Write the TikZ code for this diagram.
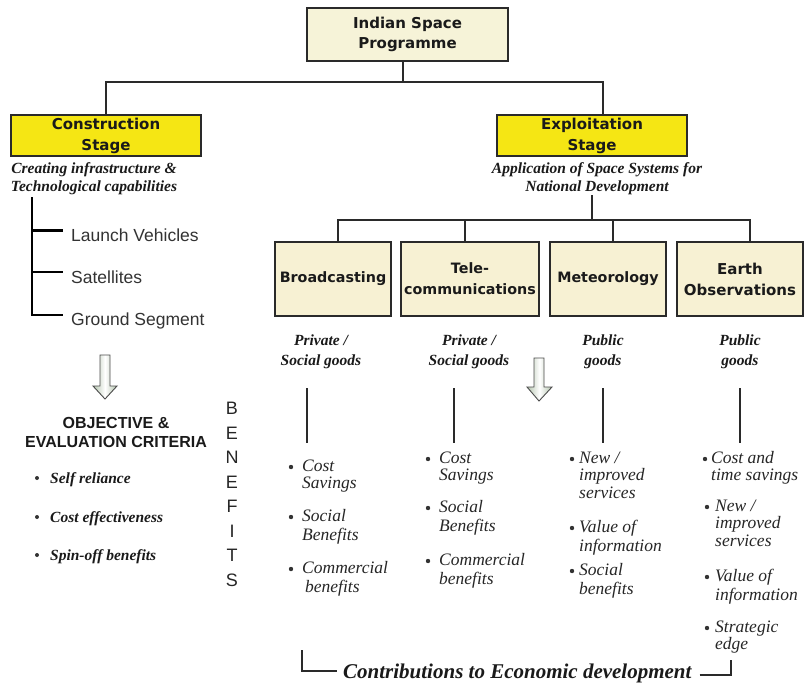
\documentclass[tikz,border=0pt]{standalone}
\usepackage{fontspec}
\setmainfont{Liberation Serif}
\newfontfamily\verd{DejaVu Sans}
\newfontfamily\arial{Liberation Sans}
\definecolor{linec}{HTML}{2A2A2A}
\definecolor{txt}{HTML}{1A1A1A}
\definecolor{ylw}{RGB}{245,230,20}
\definecolor{cream}{HTML}{F7F1D3}
\definecolor{topcream}{HTML}{F6F3D8}
\definecolor{agreen}{HTML}{B4C4AE}
\tikzset{
  box/.style={draw=linec, line width=1.2pt, inner sep=0pt, align=center, text=txt,
    font=\verd\bfseries\fontsize{15}{20}\selectfont},
  ybox/.style={box, fill=ylw, font=\verd\bfseries\fontsize{15}{21}\selectfont},
  cbox/.style={box, fill=cream, font=\verd\bfseries\fontsize{14.3}{21}\selectfont},
  sub/.style={align=center, inner sep=0pt, text=txt, font=\bfseries\itshape\fontsize{15.5}{18}\selectfont},
  goods/.style={align=center, inner sep=0pt, text=txt, font=\bfseries\itshape\fontsize{15.5}{20}\selectfont},
  seg/.style={anchor=base west, inner sep=0pt, text=black!80, font=\arial\fontsize{17.5}{20}\selectfont},
  crit/.style={anchor=base west, inner sep=0pt, text=txt, font=\bfseries\itshape\fontsize{15.5}{18}\selectfont},
  item/.style={anchor=north west, align=left, inner sep=0pt, text=black!85, font=\itshape\fontsize{17.5}{17.5}\selectfont},
  conn/.style={draw=linec, line width=1.2pt},
  blockarrow/.style={draw=black!70, line width=0.9pt, left color=agreen, right color=agreen, middle color=white},
  bul/.style={fill=black!80}
}
\begin{document}
\begin{tikzpicture}[x=1pt,y=-1pt]
\useasboundingbox (0,0) rectangle (806,691);
\fill[white] (0,0) rectangle (806,691);

% top level
\node[box, fill=topcream, minimum width=201pt, minimum height=53pt] (top) at (407.5,34.5) {Indian Space\\Programme};
\node[ybox, minimum width=190pt, minimum height=41pt] (cons) at (106,135.5) {Construction\\Stage};
\node[ybox, minimum width=190pt, minimum height=41pt] (exp) at (592,135.5) {Exploitation\\Stage};
\coordinate (split) at ([xshift=-4.5pt]top.south |- 0,82);
\draw[conn] ([xshift=-4.5pt]top.south) -- (split);
\draw[conn] (split) -| (cons.north);
\draw[conn] (split) -| ([xshift=11pt]exp.north);

\node[sub] (csub) at (94,179) {Creating infrastructure \&\\Technological capabilities};
\node[sub] (esub) at (597,179) {Application of Space Systems for\\National Development};

% construction tree
\node[seg] (lv) at (71,241) {Launch Vehicles};
\node[seg] (sat) at (71,283) {Satellites};
\node[seg] (gs) at (71,325) {Ground Segment};
\draw[draw=black, line width=2.2pt] (32,197) -- (32,315);
\draw[draw=black, line width=3pt] (32,230) -- (63,230);
\draw[draw=black, line width=2.2pt] (32,272) -- (63,272);
\draw[draw=black, line width=2.2pt] (31,315) -- (63,315);

% exploitation categories
\node[cbox, minimum width=116pt, minimum height=74pt] (bc) at (333,279) {Broadcasting};
\node[cbox, minimum width=138pt, minimum height=74pt] (tc) at (470,279) {Tele-\\communications};
\node[cbox, minimum width=116pt, minimum height=74pt] (mt) at (608,279) {Meteorology};
\node[cbox, minimum width=126pt, minimum height=74pt, font=\verd\bfseries\fontsize{15}{21}\selectfont] (eo) at (740,279) {Earth\\Observations};
\coordinate (hub) at ([xshift=-5pt]esub.south |- 0,220);
\draw[conn] ([xshift=-5pt]esub.south) -- (hub);
\draw[conn] ([xshift=5pt]bc.north) |- (hub);
\draw[conn] ([xshift=10pt]eo.north) |- (hub);
\draw[conn] ([xshift=-5pt]tc.north) -- ([xshift=-5pt]tc.north |- hub);
\draw[conn] ([xshift=5pt]mt.north) -- ([xshift=5pt]mt.north |- hub);

% goods
\node[goods] (g1) at (321,352) {Private /\\Social goods};
\node[goods] (g2) at (469,352) {Private /\\Social goods};
\node[goods] (g3) at (603,352) {Public\\goods};
\node[goods] (g4) at (740,352) {Public\\goods};
\draw[conn] (307,388) -- (307,443);
\draw[conn] (454,388) -- (454,443);
\draw[conn] (603,388) -- (603,443);
\draw[conn] (740,388) -- (740,443);

% block arrows
\draw[blockarrow] (100,355) -- (110,355) -- (110,386) -- (117,386) -- (105,399) -- (93,386) -- (100,386) -- cycle;
\draw[blockarrow] (534,358) -- (544,358) -- (544,387) -- (552,387) -- (539,401) -- (527,387) -- (534,387) -- cycle;

% objective
\node[align=center, inner sep=0pt, text=txt, font=\arial\bfseries\fontsize{16}{19}\selectfont] (obj) at (116,432.5) {OBJECTIVE \&\\EVALUATION CRITERIA};
\node[crit] (c1) at (50,483) {Self reliance};
\node[crit] (c2) at (50,522) {Cost effectiveness};
\node[crit] (c3) at (50,560) {Spin-off benefits};
\fill[bul] (37,478) circle (2);
\fill[bul] (37,517) circle (2);
\fill[bul] (37,555) circle (2);

% BENEFITS
\node[anchor=north, align=center, inner sep=0pt, text=black!85, font=\arial\fontsize{18}{24.5}\selectfont] (ben) at (232,397.3) {\strut B\\E\\N\\E\\F\\I\\T\\S};

% benefit lists
\node[item] (i11) at (302,459) {\strut Cost\\Savings};
\node[item] (i12) at (302,509) {\strut Social\\Benefits};
\node[item] (i13) at (302,561) {\strut Commercial\\\hspace{3pt}benefits};
\fill[bul] (291,467) circle (2.2);
\fill[bul] (291,517) circle (2.2);
\fill[bul] (291,569) circle (2.2);

\node[item] (i21) at (439,451) {\strut Cost\\Savings};
\node[item] (i22) at (439,500) {\strut Social\\Benefits};
\node[item] (i23) at (439,553) {\strut Commercial\\benefits};
\fill[bul] (428,459) circle (2.2);
\fill[bul] (428,508) circle (2.2);
\fill[bul] (428,561) circle (2.2);

\node[item] (i31) at (579,451) {\strut New /\\improved\\services};
\node[item] (i32) at (579,520) {\strut Value of\\information};
\node[item] (i33) at (579,563) {\strut Social\\benefits};
\fill[bul] (572,459) circle (2.2);
\fill[bul] (572,528) circle (2.2);
\fill[bul] (572,571) circle (2.2);

\node[item] (i41) at (711,451) {\strut Cost and\\time savings};
\node[item] (i42) at (715,499) {\strut New /\\improved\\services};
\node[item] (i43) at (715,569) {\strut Value of\\information};
\node[item] (i44) at (715,620) {\strut Strategic\\edge};
\fill[bul] (705,459) circle (2.2);
\fill[bul] (707,507) circle (2.2);
\fill[bul] (707,577) circle (2.2);
\fill[bul] (707,628) circle (2.2);

% contributions
\node[anchor=base west, inner sep=0pt, text=txt, font=\bfseries\itshape\fontsize{21}{24}\selectfont] (contrib) at (343,678) {Contributions to Economic development};
\coordinate (lb) at (302,650);
\coordinate (rb) at (731,660);
\draw[conn] (lb) |- ([xshift=-6pt]contrib.west |- 0,671);
\draw[conn] ([xshift=8pt]contrib.east |- 0,675) -| (rb);
\end{tikzpicture}
\end{document}
